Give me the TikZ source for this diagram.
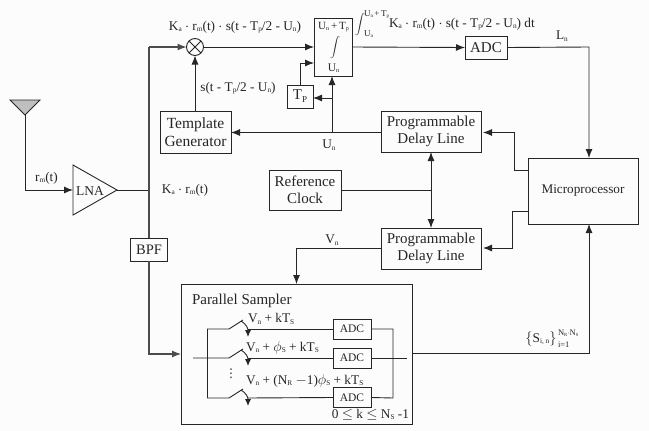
\documentclass[tikz,border=0pt]{standalone}
\usepackage{fontspec}
\setmainfont{Liberation Serif}
\newfontfamily\dejavu{DejaVu Sans}
\usetikzlibrary{arrows.meta}
\newcommand{\sbs}[1]{\raisebox{-0.1em}{\scalebox{0.55}{#1}}}
\begin{document}
\begin{tikzpicture}[x=1pt,y=-1pt,
  every node/.style={inner sep=0pt,outer sep=0pt,font=\fontsize{15}{16.5}\selectfont,text=black!85},
  blk/.style={draw=black!85,line width=0.9pt,align=center,anchor=north west},
  wire/.style={draw=black!85,line width=0.9pt},
  arr/.style={wire,-{Latex[length=9pt,width=7pt]}},
  darr/.style={wire,{Latex[length=9pt,width=7pt]}-{Latex[length=9pt,width=7pt]}},
  lab/.style={font=\fontsize{13.3}{14}\selectfont},
  small/.style={font=\fontsize{9}{10}\selectfont},
  adcbox/.style={draw=black!85,line width=0.9pt,minimum width=38pt,minimum height=20pt,font=\fontsize{11.5}{12}\selectfont},
]
\useasboundingbox (0,0) rectangle (649,431);
\fill[black!1] (0,0) rectangle (649,431);
% antenna
\coordinate (antL) at (10,100);\coordinate (antR) at (40,100);\coordinate (antA) at (25,115);
\filldraw[fill=black!25,draw=black!85,line width=0.9pt] (antL)--(antR)--(antA)--cycle;
% LNA
\coordinate (lnaA) at (73,165);\coordinate (lnaB) at (73,215);\coordinate (lnaT) at (117,190);
\draw[wire] (lnaA)--(lnaB)--(lnaT)--cycle;
\node[font=\fontsize{13.5}{14}\selectfont] (lna) at (90,191) {LNA};
\coordinate (lnaIn) at (73,190);
\draw[arr] (antA) |- (lnaIn);
\node[lab] (rm) at (46.5,178) {r\sbs{m}(t)};
% mixer
\node[draw=black!85,line width=0.9pt,circle,minimum size=17pt] (mix) at (195,47) {};
\draw[wire] (mix.north west)--(mix.south east) (mix.north east)--(mix.south west);
% blocks
\node[blk,minimum width=38pt,minimum height=58pt] (int) at (314,18) {};
\node[font=\fontsize{11}{11}\selectfont] (intU) at (333.5,27) {U\sbs{n}\,+\,T\sbs{p}};
\node[font=\fontsize{11.5}{12}\selectfont] (intL) at (333.5,68) {U\sbs{n}};
\node[font=\fontsize{10.5}{11}\selectfont] (intS) at (335,48) {$\displaystyle\int$};
\node[blk,minimum width=42pt,minimum height=23pt,font=\fontsize{15}{16}\selectfont] (adc) at (465,36) {ADC};
\node[blk,minimum width=71pt,minimum height=42pt,font=\fontsize{15.5}{17.5}\selectfont] (tg) at (160,111) {Template\\Generator};
\node[blk,minimum width=26pt,minimum height=23pt] (tp) at (287,85) {T\raisebox{-0.2em}{\scalebox{0.6}{P}}};
\node[blk,minimum width=100pt,minimum height=41pt] (pd1) at (381,111) {Programmable\\Delay Line};
\node[blk,minimum width=100pt,minimum height=41pt] (pd2) at (381,228) {Programmable\\Delay Line};
\node[blk,minimum width=72pt,minimum height=40pt] (rc) at (269,170) {Reference\\Clock};
\node[blk,minimum width=110pt,minimum height=66pt,font=\fontsize{13.2}{14}\selectfont] (mp) at (528,158) {Microprocessor};
\node[blk,fill=black!1,minimum width=37pt,minimum height=23pt,font=\fontsize{14.5}{15}\selectfont] (bpf) at (130.5,238) {BPF};
\node[blk,minimum width=231pt,minimum height=140pt] (ps) at (181,284) {};
\node[font=\fontsize{15}{16}\selectfont,anchor=west] (pslab) at (192,301) {Parallel Sampler};
% top wires
\coordinate (rfTop) at (149,47);\coordinate (rfTap) at (149,190);
\coordinate (rfBot) at (149,354);
\draw[wire] (lnaT)--(rfTap);
\draw[arr,line width=1.1pt,black!70] (rfTop)--(mix.west);
\draw[wire,line width=1.1pt,black!70] (rfTop)--(bpf.north);
\draw[arr,line width=1.1pt,black!70] (bpf.south)|-(ps.west|-rfBot);
\draw[arr] (mix.east)--(int.west|-mix);
\draw[arr] (int.east|-mix)--(adc.west);
\coordinate (lnCorner) at (589,47);
\draw[arr] (adc.east)--(lnCorner)--(lnCorner|-mp.north);
\draw[arr] (tg.north-|mix)--(mix.south);
% Un
\coordinate (unT) at (332,132.5);\coordinate (unP) at (332,98);
\draw[arr] (pd1.west|-unT)--(tg.east|-unT);
\draw[arr] (unT)--(int.south-|unT);
\draw[arr] (unP)--(tp.east|-unP);
\coordinate (tpC) at (300,63);
\draw[arr] (tp.north-|tpC)--(tpC)--(int.west|-tpC);
% clock
\coordinate (clkT) at (431,190);
\draw[wire] (rc.east|-clkT)--(clkT);
\draw[darr] (pd1.south-|clkT)--(pd2.north-|clkT);
% micro to delay
\coordinate (m1a) at (514,170.5);\coordinate (m1b) at (514,132.5);\coordinate (m2a) at (512,211);\coordinate (m2b) at (512,248);
\coordinate (e1) at (483,132.5);\coordinate (e2) at (483,248);
\draw[arr] (mp.west|-m1a)--(m1a)--(m1b)--(e1);
\draw[arr] (mp.west|-m2a)--(m2a)--(m2b)--(e2);
% Vn
\coordinate (vnC) at (296.5,248.5);
\draw[arr] (pd2.west|-vnC)--(vnC)--(vnC|-ps.north);
% Sampler out
\coordinate (sOut) at (589,353);
\draw[arr] (ps.east|-sOut)--(sOut)--(sOut|-mp.south);
% ADCs
\node[adcbox] (a1) at (352,329) {ADC};
\node[adcbox] (a2) at (352,358) {ADC};
\node[adcbox] (a3) at (352,397.5) {ADC};
\coordinate (lr1) at (207,329);\coordinate (lr3) at (207,398);
\coordinate (rr1) at (393,329);\coordinate (rr3) at (393,398);
\coordinate (mIn) at (193,358);\coordinate (mOut) at (407,358);
\draw[wire] (a1.east)--(rr1)--(rr3)--(a3.east);
\draw[wire] (a2.east)--(mOut);
% switches
\foreach \yy/\st in {329/lr1,358/mIn,398/lr3}{
  \draw[wire] (\st) -- (229,\yy) -- (243,\yy-9);
  \draw[wire,-{Latex[length=7pt,width=6pt]}] (241,\yy-8) .. controls (246,\yy-5) and (248,\yy-1) .. (248,\yy+8);
}
\draw[wire] (lr1)--(lr3);
\draw[wire] (248,329)--(a1.west);
\draw[wire] (248,358)--(a2.west);
\draw[wire] (248,398)--(a3.west);
\node[font=\dejavu\fontsize{12}{12}\selectfont] (dots) at (231,374) {⋮};
% labels
\node[lab,anchor=west] (l1) at (248,319) {V\sbs{n} + kT\sbs{S}};
\node[lab,anchor=west] (l2) at (246,348) {V\sbs{n} + $\phi$\sbs{S} + kT\sbs{S}};
\node[lab,anchor=west] (l3) at (246,381) {V\sbs{n} + (N\sbs{R} $-$1)$\phi$\sbs{S} + kT\sbs{S}};
\node[lab,anchor=east] (l4) at (409,415) {0 $\leq$ k $\leq$ N\sbs{S} -1};
\node[lab] (k1) at (235,27) {K\sbs{a} $\cdot$ r\sbs{m}(t) $\cdot$ s(t - T\sbs{p}/2 - U\sbs{n})};
\node[lab] (k2) at (238,88) {s(t - T\sbs{p}/2 - U\sbs{n})};
\node[lab] (k3) at (185,190) {K\sbs{a} $\cdot$ r\sbs{m}(t)};
\node[lab] (un) at (329,145) {U\sbs{n}};
\node[lab] (vn) at (332,240) {V\sbs{n}};
\node[lab] (ln) at (562,36) {L\sbs{n}};
\node[lab,anchor=west] (k4) at (389,24) {K\sbs{a} $\cdot$ r\sbs{m}(t) $\cdot$ s(t - T\sbs{p}/2 - U\sbs{n}) dt};
\node[font=\fontsize{8.5}{9}\selectfont] (is) at (360,24.5) {$\displaystyle\int$};
\node[small,anchor=west] (isU) at (364,14.5) {U\sbs{n}\,+\,T\sbs{p}};
\node[small,anchor=west] (isL) at (364,34) {U\sbs{n}};
\node[lab] (si) at (541,339) {$\{$S\sbs{i, n}$\}$};
\node[font=\fontsize{8.5}{9}\selectfont,anchor=west] (sU) at (558,333) {N\sbs{R}$\cdot$N\sbs{S}};
\node[font=\fontsize{8.5}{9}\selectfont,anchor=west] (sL) at (558,345) {i=1};
\end{tikzpicture}
\end{document}
